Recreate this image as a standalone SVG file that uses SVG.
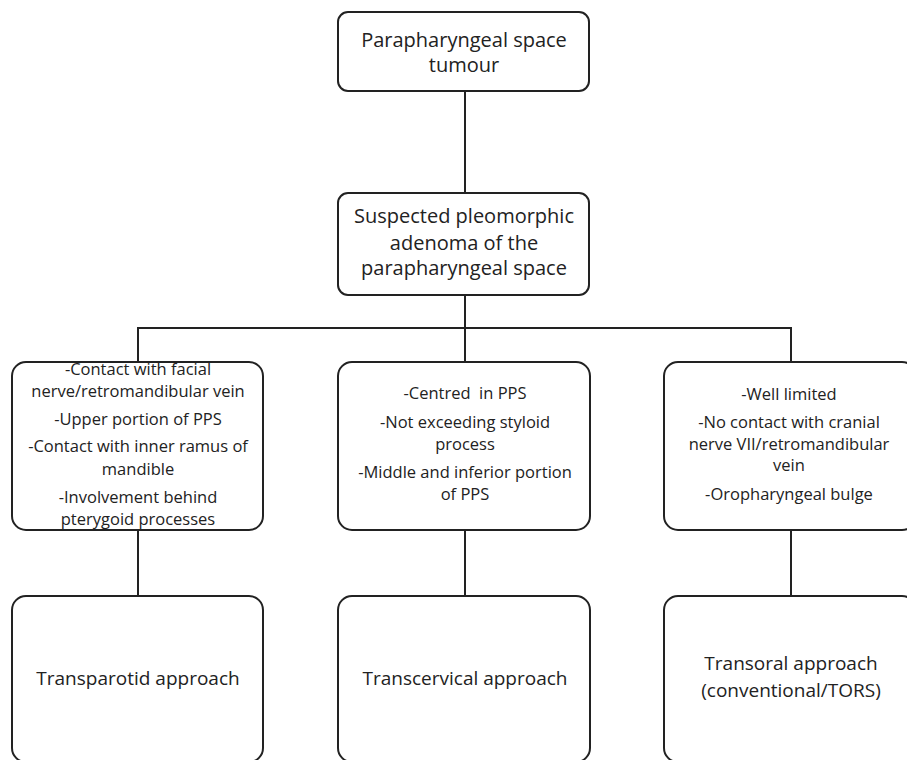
<svg xmlns="http://www.w3.org/2000/svg" width="907" height="760" viewBox="0 0 907 760">
<style>
.box{fill:#fff;stroke:#222;stroke-width:2}
.ln{stroke:#222;stroke-width:2;fill:none}
text{font-family:"Open Sans","Liberation Sans",sans-serif;fill:#222;text-anchor:middle}
.big{font-size:20px}
.sm{font-size:16.5px}
.ap{font-size:19px}
</style>
<rect width="907" height="760" fill="#fff"/>
<g id="connectors">
<line class="ln" x1="465" y1="91" x2="465" y2="193"/>
<line class="ln" x1="465" y1="295" x2="465" y2="362"/>
<line class="ln" x1="137" y1="328" x2="792" y2="328"/>
<line class="ln" x1="138" y1="328" x2="138" y2="362"/>
<line class="ln" x1="791" y1="328" x2="791" y2="362"/>
<line class="ln" x1="138" y1="530" x2="138" y2="596"/>
<line class="ln" x1="465" y1="530" x2="465" y2="596"/>
<line class="ln" x1="791" y1="530" x2="791" y2="596"/>
</g>
<g id="n_top">
<rect class="box" x="338" y="12" width="251" height="79" rx="10"/>
<text class="big" x="464" y="47">Parapharyngeal space</text>
<text class="big" x="464" y="72">tumour</text>
</g>
<g id="n_suspected">
<rect class="box" x="338" y="193" width="251" height="102" rx="10"/>
<text class="big" x="464" y="223">Suspected pleomorphic</text>
<text class="big" x="464" y="250">adenoma of the</text>
<text class="big" x="464" y="275">parapharyngeal space</text>
</g>
<g id="n_left_criteria">
<rect class="box" x="12" y="362" width="251" height="168" rx="14"/>
<text class="sm" x="138" y="375">-Contact with facial</text>
<text class="sm" x="138" y="397">nerve/retromandibular vein</text>
<text class="sm" x="138" y="425">-Upper portion of PPS</text>
<text class="sm" x="138" y="452">-Contact with inner ramus of</text>
<text class="sm" x="138" y="475">mandible</text>
<text class="sm" x="138" y="503">-Involvement behind</text>
<text class="sm" x="138" y="525">pterygoid processes</text>
</g>
<g id="n_mid_criteria">
<rect class="box" x="338" y="362" width="252" height="168" rx="14"/>
<text class="sm" x="465" y="399">-Centred&#160; in PPS</text>
<text class="sm" x="465" y="428">-Not exceeding styloid</text>
<text class="sm" x="465" y="450">process</text>
<text class="sm" x="465" y="478">-Middle and inferior portion</text>
<text class="sm" x="465" y="500">of PPS</text>
</g>
<g id="n_right_criteria">
<rect class="box" x="664" y="362" width="252" height="168" rx="14"/>
<text class="sm" x="789" y="400">-Well limited</text>
<text class="sm" x="789" y="428">-No contact with cranial</text>
<text class="sm" x="789" y="450">nerve VII/retromandibular</text>
<text class="sm" x="789" y="471">vein</text>
<text class="sm" x="789" y="500">-Oropharyngeal bulge</text>
</g>
<g id="n_transparotid">
<rect class="box" x="12" y="596" width="251" height="166" rx="14"/>
<text class="ap" x="138" y="685">Transparotid approach</text>
</g>
<g id="n_transcervical">
<rect class="box" x="338" y="596" width="252" height="166" rx="14"/>
<text class="ap" x="465" y="685">Transcervical approach</text>
</g>
<g id="n_transoral">
<rect class="box" x="664" y="596" width="252" height="166" rx="14"/>
<text class="ap" x="791" y="670">Transoral approach</text>
<text class="ap" x="791" y="697">(conventional/TORS)</text>
</g>
</svg>
